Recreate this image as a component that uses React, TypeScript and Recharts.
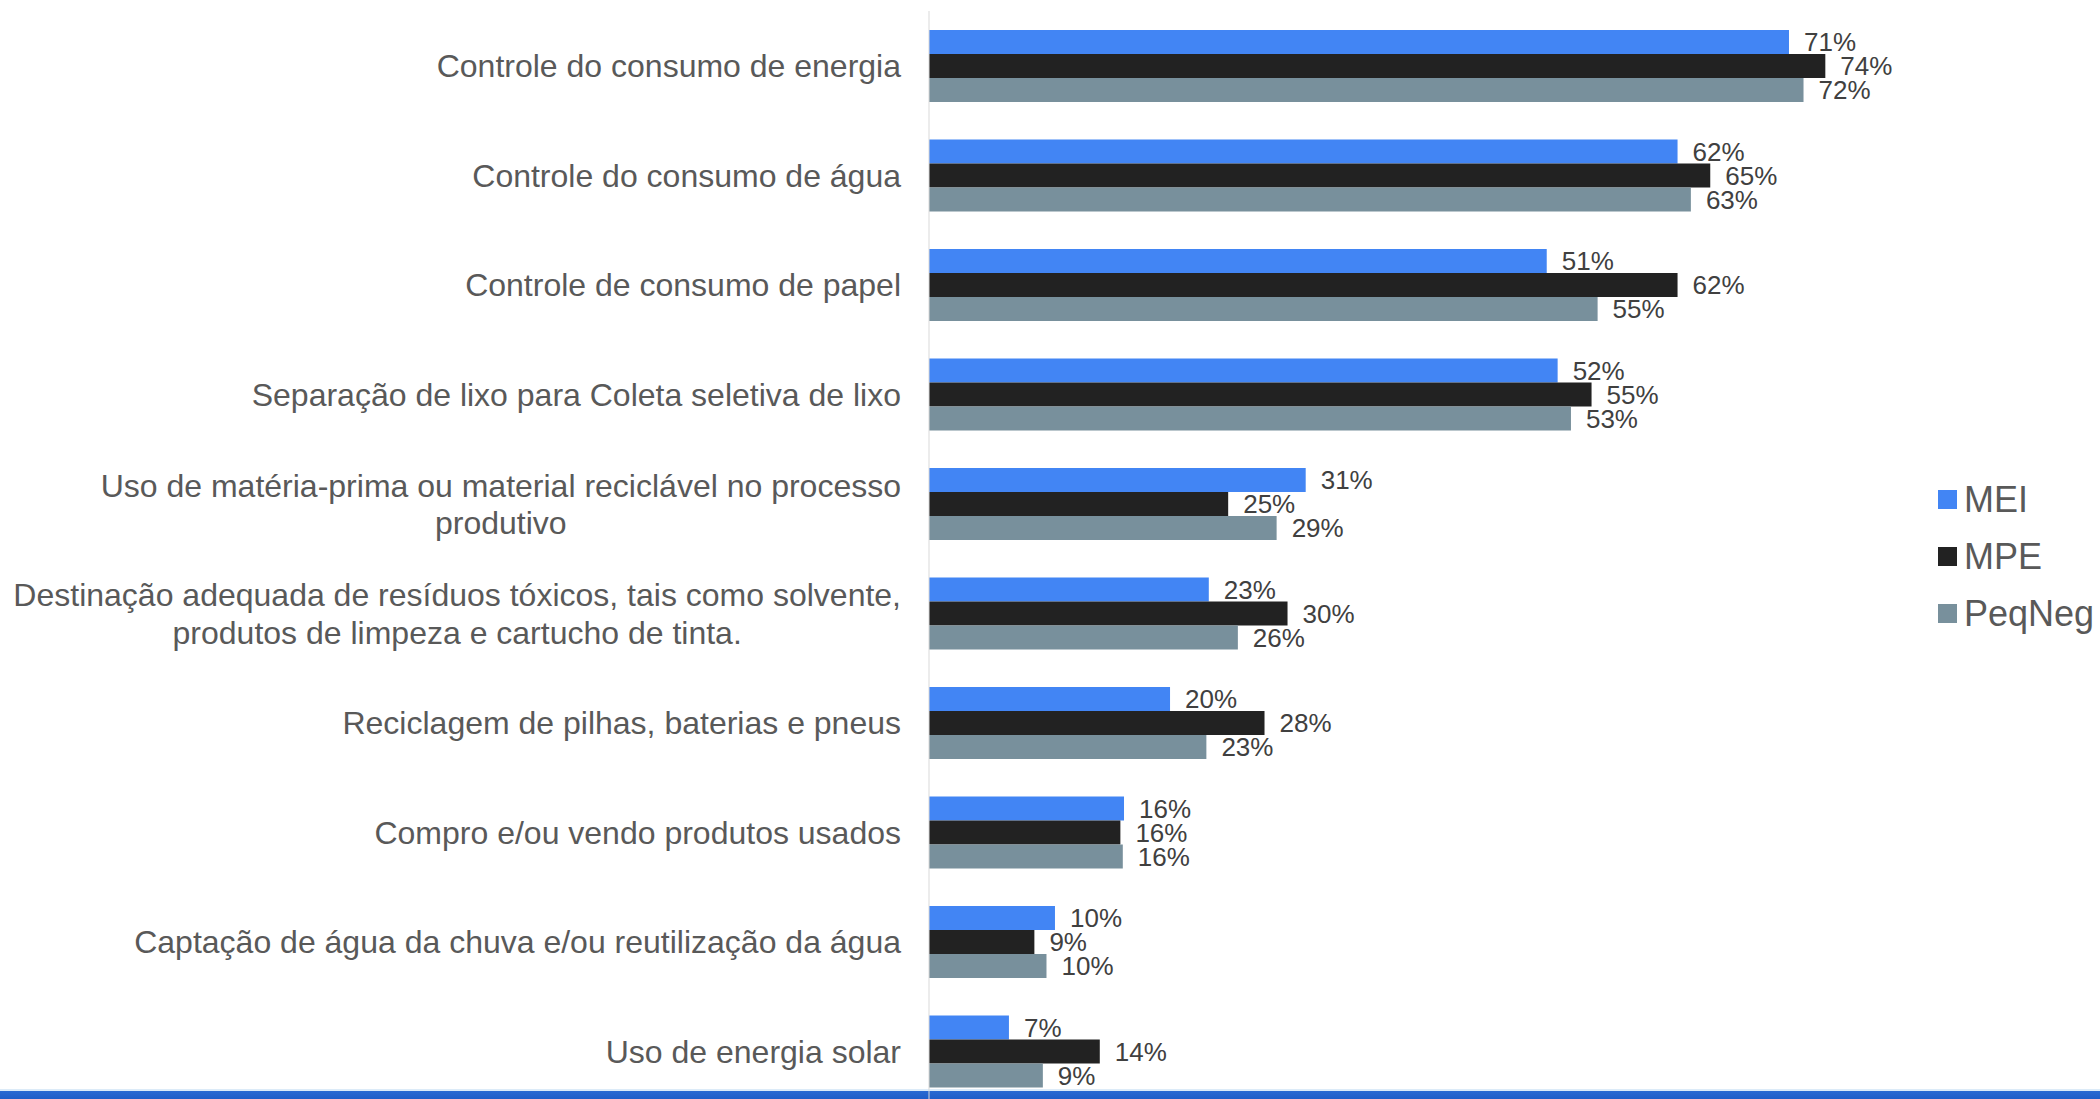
import { Bar, BarChart, LabelList, Legend, XAxis, YAxis } from "recharts";

const categories = [
  "Controle do consumo de energia",
  "Controle do consumo de água",
  "Controle de consumo de papel",
  "Separação de lixo para Coleta seletiva de lixo",
  "Uso de matéria-prima ou material reciclável no processo\nprodutivo",
  "Destinação adequada de resíduos tóxicos, tais como solvente,\nprodutos de limpeza e cartucho de tinta.",
  "Reciclagem de pilhas, baterias e pneus",
  "Compro e/ou vendo produtos usados",
  "Captação de água da chuva e/ou reutilização da água",
  "Uso de energia solar",
];

// percentages (labels show them rounded)
const mei = [71.0, 61.8, 51.0, 51.9, 31.1, 23.1, 19.9, 16.1, 10.4, 6.6];
const mpe = [74.0, 64.5, 61.8, 54.7, 24.7, 29.6, 27.7, 15.8, 8.7, 14.1];
const peqNeg = [72.2, 62.9, 55.2, 53.0, 28.7, 25.5, 22.9, 16.0, 9.7, 9.4];

const series = [
  { key: "mei", name: "MEI", color: "#4285f4" },
  { key: "mpe", name: "MPE", color: "#222222" },
  { key: "peqNeg", name: "PeqNeg", color: "#78909c" },
];

const data = categories.map((name, i) => ({
  name,
  mei: mei[i],
  mpe: mpe[i],
  peqNeg: peqNeg[i],
}));

const FONT = '"Liberation Sans", Arial, sans-serif';

const ctx =
  typeof document !== "undefined"
    ? document.createElement("canvas").getContext("2d")
    : null;

function textWidth(s: string) {
  if (!ctx) return s.length * 16;
  ctx.font = `32px ${FONT}`;
  return ctx.measureText(s).width;
}

function CategoryTick({ x, y, payload }: any) {
  const lines = String(payload.value).split("\n");
  const common = { fontSize: 32, fontFamily: FONT, fill: "#595959" };
  if (lines.length === 1) {
    return (
      <text x={x} y={y} dy={11.5} textAnchor="end" {...common}>
        {lines[0]}
      </text>
    );
  }
  const w = Math.max(...lines.map(textWidth));
  const cx = x - w / 2;
  const lh = 37.5;
  const start = y - ((lines.length - 1) * lh) / 2;
  return (
    <text textAnchor="middle" {...common}>
      {lines.map((l, i) => (
        <tspan key={i} x={cx} y={start + i * lh} dy={11.5}>
          {l}
        </tspan>
      ))}
    </text>
  );
}

function LegendBox({ payload }: any) {
  return (
    <div style={{ fontFamily: FONT }}>
      {(payload || []).map((p: any) => (
        <div
          key={p.value}
          style={{ display: "flex", alignItems: "center", height: 57 }}
        >
          <span
            style={{
              width: 19,
              height: 19,
              background: p.color,
              display: "inline-block",
              marginRight: 7,
            }}
          />
          <span style={{ fontSize: 36, color: "#595959", whiteSpace: "nowrap" }}>
            {p.value}
          </span>
        </div>
      ))}
    </div>
  );
}

export default function App() {
  return (
    <div
      style={{
        position: "fixed",
        left: 0,
        top: 0,
        width: 2100,
        height: 1099,
        overflow: "hidden",
        background: "#ffffff",
      }}
    >
      <div
        style={{
          position: "absolute",
          left: 0,
          top: 1089,
          width: 2100,
          height: 10,
          background:
            "linear-gradient(#dcebf8 0px, #dcebf8 2px, #2a6ad2 2px, #1f5ec8 10px)",
        }}
      />
      <div style={{ position: "absolute", left: 0, top: 0 }}>
        <BarChart
          width={2100}
          height={1106}
          data={data}
          layout="vertical"
          margin={{ top: 11, right: 202, left: 0, bottom: 0 }}
          barGap={0}
          barSize={24}
        >
          <XAxis type="number" domain={[0, 80]} hide />
          <YAxis
            type="category"
            dataKey="name"
            width={929}
            axisLine={{ stroke: "#d9d9d9" }}
            tickLine={false}
            tickSize={0}
            tickMargin={28}
            tick={<CategoryTick />}
            interval={0}
          />
          <Legend
            layout="vertical"
            align="center"
            verticalAlign="middle"
            wrapperStyle={{ left: 1938, top: 471, width: 162 }}
            content={<LegendBox />}
          />
          {series.map((s) => (
            <Bar
              key={s.key}
              dataKey={s.key}
              name={s.name}
              fill={s.color}
              isAnimationActive={false}
            >
              <LabelList
                dataKey={s.key}
                position="right"
                offset={15}
                formatter={(v: any) => `${Math.round(Number(v))}%`}
                fill="#404040"
                fontSize={26}
                fontFamily={FONT}
              />
            </Bar>
          ))}
        </BarChart>
      </div>
    </div>
  );
}
